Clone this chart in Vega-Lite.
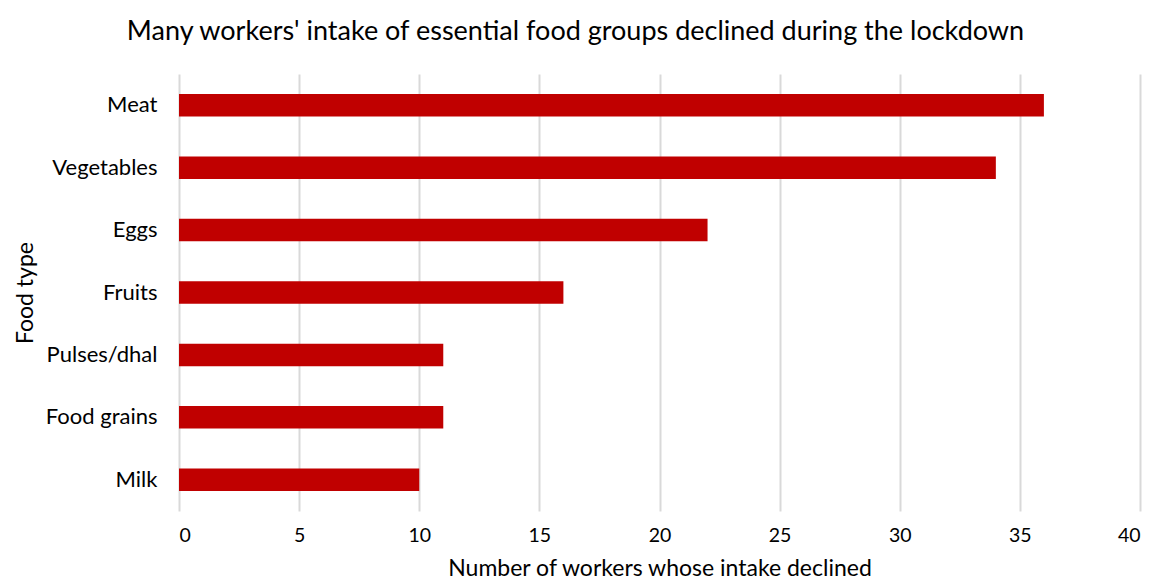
{
  "$schema": "https://vega.github.io/schema/vega-lite/v6.json",
  "width": 961,
  "height": 437,
  "autosize": {"type": "none"},
  "padding": {"left": 179, "top": 74, "right": 11, "bottom": 72},
  "background": "white",
  "title": {
    "text": "Many workers' intake of essential food groups declined during the lockdown",
    "font": "Lato",
    "fontSize": 27,
    "fontWeight": "normal",
    "color": "#000000",
    "anchor": "middle",
    "dx": -84,
    "offset": 28
  },
  "data": {
    "values": [
      {"food": "Meat", "count": 36},
      {"food": "Vegetables", "count": 34},
      {"food": "Eggs", "count": 22},
      {"food": "Fruits", "count": 16},
      {"food": "Pulses/dhal", "count": 11},
      {"food": "Food grains", "count": 11},
      {"food": "Milk", "count": 10}
    ]
  },
  "mark": {"type": "bar", "color": "#C00000"},
  "encoding": {
    "y": {
      "field": "food",
      "type": "nominal",
      "sort": null,
      "scale": {"paddingInner": 0.64, "paddingOuter": 0.32},
      "axis": {
        "title": "Food type",
        "titleFont": "Lato",
        "titleFontSize": 23,
        "titleFontWeight": "normal",
        "titleColor": "#000000",
        "titlePadding": 8,
        "labelFont": "Lato",
        "labelFontSize": 22,
        "labelColor": "#000000",
        "labelPadding": 22,
        "ticks": false,
        "domain": false,
        "grid": false
      }
    },
    "x": {
      "field": "count",
      "type": "quantitative",
      "scale": {"domain": [0, 40], "nice": false},
      "axis": {
        "title": "Number of workers whose intake declined",
        "titleFont": "Lato",
        "titleFontSize": 23,
        "titleFontWeight": "normal",
        "titleColor": "#000000",
        "titlePadding": 13,
        "labelFont": "Lato",
        "labelFontSize": 19.5,
        "labelColor": "#000000",
        "labelPadding": 15,
        "values": [0, 5, 10, 15, 20, 25, 30, 35, 40],
        "ticks": false,
        "domain": false,
        "grid": true,
        "gridColor": "#d9d9d9",
        "gridWidth": 2
      }
    }
  },
  "config": {"view": {"stroke": null}}
}
